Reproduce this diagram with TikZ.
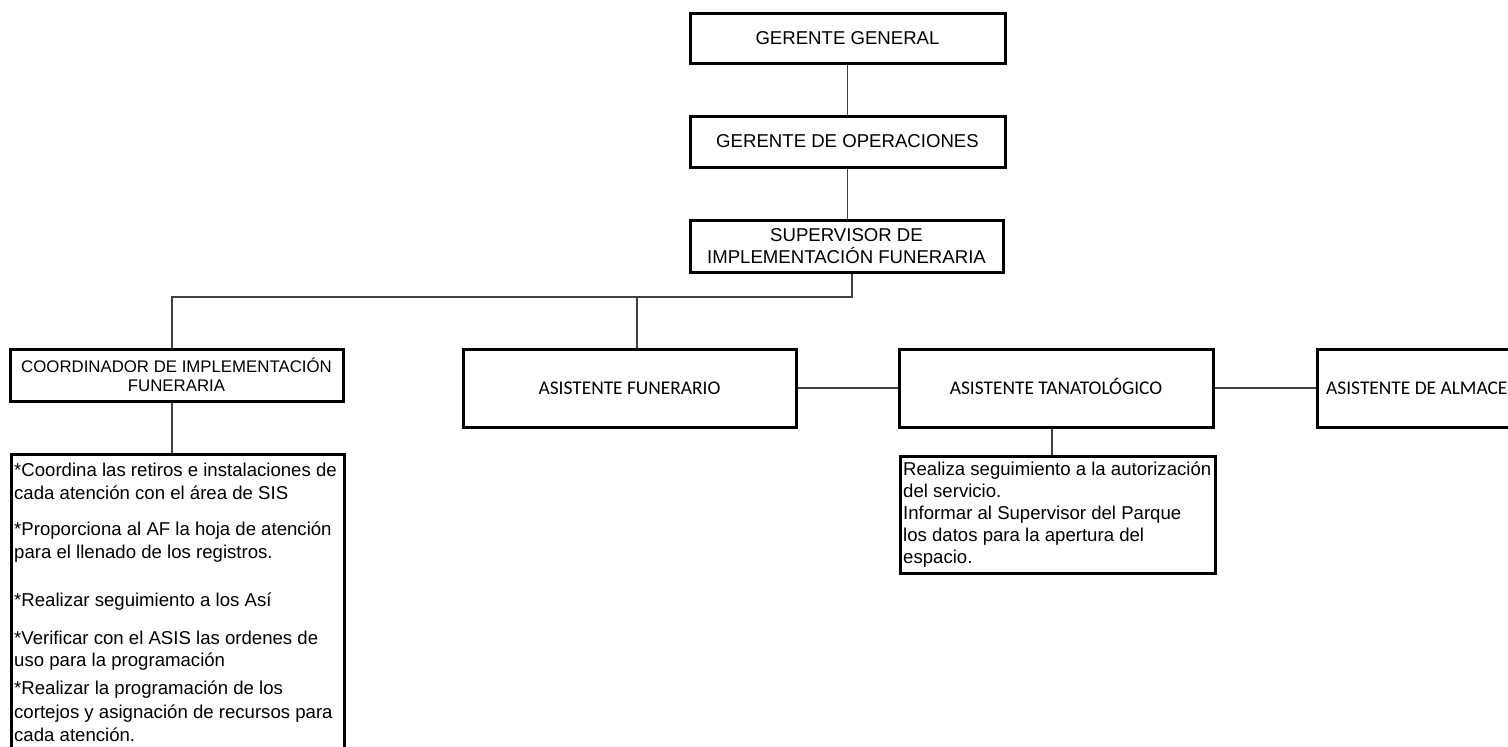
\documentclass[tikz,border=0pt]{standalone}
\usepackage{fontspec}
\setmainfont{Liberation Sans}
\newfontfamily\calibri{Carlito}
\begin{document}
\begin{tikzpicture}[x=1pt,y=-1pt,
  box/.style={draw=black,line width=3pt,rectangle,inner sep=0pt,align=center,
    font=\fontsize{18.6}{22}\selectfont},
  abox/.style={draw=black,line width=3pt,rectangle,inner sep=0pt,align=center,
    text height=13pt,text depth=0pt,
    font=\calibri\fontsize{19.4}{23}\selectfont},
  plain/.style={inner sep=0pt,font=\fontsize{18.6}{22}\selectfont},
  link/.style={draw=black!75,line width=1.3pt}
]
\useasboundingbox (0,0) rectangle (1508,747);
\clip (0,0) rectangle (1508,747);

% upper chain of command
\node[box,minimum width=315pt,minimum height=50pt] (gg) at (847.5,38) {GERENTE GENERAL};
\node[box,minimum width=315pt,minimum height=51pt] (go) at (847.5,141.5) {GERENTE DE OPERACIONES};
\node[box,minimum width=313pt,minimum height=52pt] (sup) at (846.5,246)
  {SUPERVISOR DE\\IMPLEMENTACIÓN FUNERARIA};

% second level
\node[box,minimum width=333pt,minimum height=52pt,
  font=\fontsize{16.8}{19}\selectfont] (coord) at (176.5,375)
  {COORDINADOR DE IMPLEMENTACIÓN\\FUNERARIA};
\node[abox,minimum width=333pt,minimum height=78pt] (af) at (629.5,388) {ASISTENTE FUNERARIO};
\node[abox,minimum width=314pt,minimum height=78pt] (tan) at (1056,388) {ASISTENTE TANATOLÓGICO};
\node[draw=black,line width=3pt,rectangle,minimum width=333pt,minimum height=78pt] (alm) at (1483.5,388) {};
\node[inner sep=0pt,anchor=west,text height=13pt,text depth=0pt,
  font=\calibri\fontsize{19.4}{23}\selectfont] (almt) at (1326,388) {ASISTENTE DE ALMACE};

% description boxes
\node[draw=black,line width=3pt,rectangle,minimum width=333pt,minimum height=340pt,anchor=north west] (cdesc) at (10,453) {};
\node[draw=black,line width=3pt,rectangle,minimum width=315pt,minimum height=117pt,anchor=north west] (tdesc) at (899,455) {};

\node[plain,anchor=base west] (c1) at (14,476) {*Coordina las retiros e instalaciones de};
\node[plain,anchor=base west] (c2) at (14,499) {cada atención con el área de SIS};
\node[plain,anchor=base west] (c3) at (14,535) {*Proporciona al AF la hoja de atención};
\node[plain,anchor=base west] (c4) at (14,558) {para el llenado de los registros.};
\node[plain,anchor=base west] (c5) at (14,606) {*Realizar seguimiento a los Así};
\node[plain,anchor=base west] (c6) at (14,644) {*Verificar con el ASIS las ordenes de};
\node[plain,anchor=base west] (c7) at (14,666) {uso para la programación};
\node[plain,anchor=base west] (c8) at (14,694) {*Realizar la programación de los};
\node[plain,anchor=base west] (c9) at (14,718) {cortejos y asignación de recursos para};
\node[plain,anchor=base west] (c10) at (14,741) {cada atención.};

\node[plain,anchor=base west] (t1) at (903,475) {Realiza seguimiento a la autorización};
\node[plain,anchor=base west] (t2) at (903,497) {del servicio.};
\node[plain,anchor=base west] (t3) at (903,519) {Informar al Supervisor del Parque};
\node[plain,anchor=base west] (t4) at (903,541) {los datos para la apertura del};
\node[plain,anchor=base west] (t5) at (903,563) {espacio.};

% connectors
\coordinate (bus) at (852,297);
\coordinate (busaf) at (637,297);
\coordinate (buscoord) at (172,297);
\coordinate (tdrop) at (1052,455);
\draw[link] (gg.south) -- (go.north);
\draw[link] (go.south) -- (go.south |- sup.north);
\draw[link] (sup.south -| bus) -- (bus) -- (buscoord) -- (buscoord |- coord.north);
\draw[link] (busaf) -- (busaf |- af.north);
\draw[link] (af.east) -- (tan.west);
\draw[link] (tan.east) -- (alm.west);
\draw[link] (coord.south -| buscoord) -- (buscoord |- cdesc.north);
\draw[link] (tan.south -| tdrop) -- (tdrop);
\end{tikzpicture}
\end{document}
